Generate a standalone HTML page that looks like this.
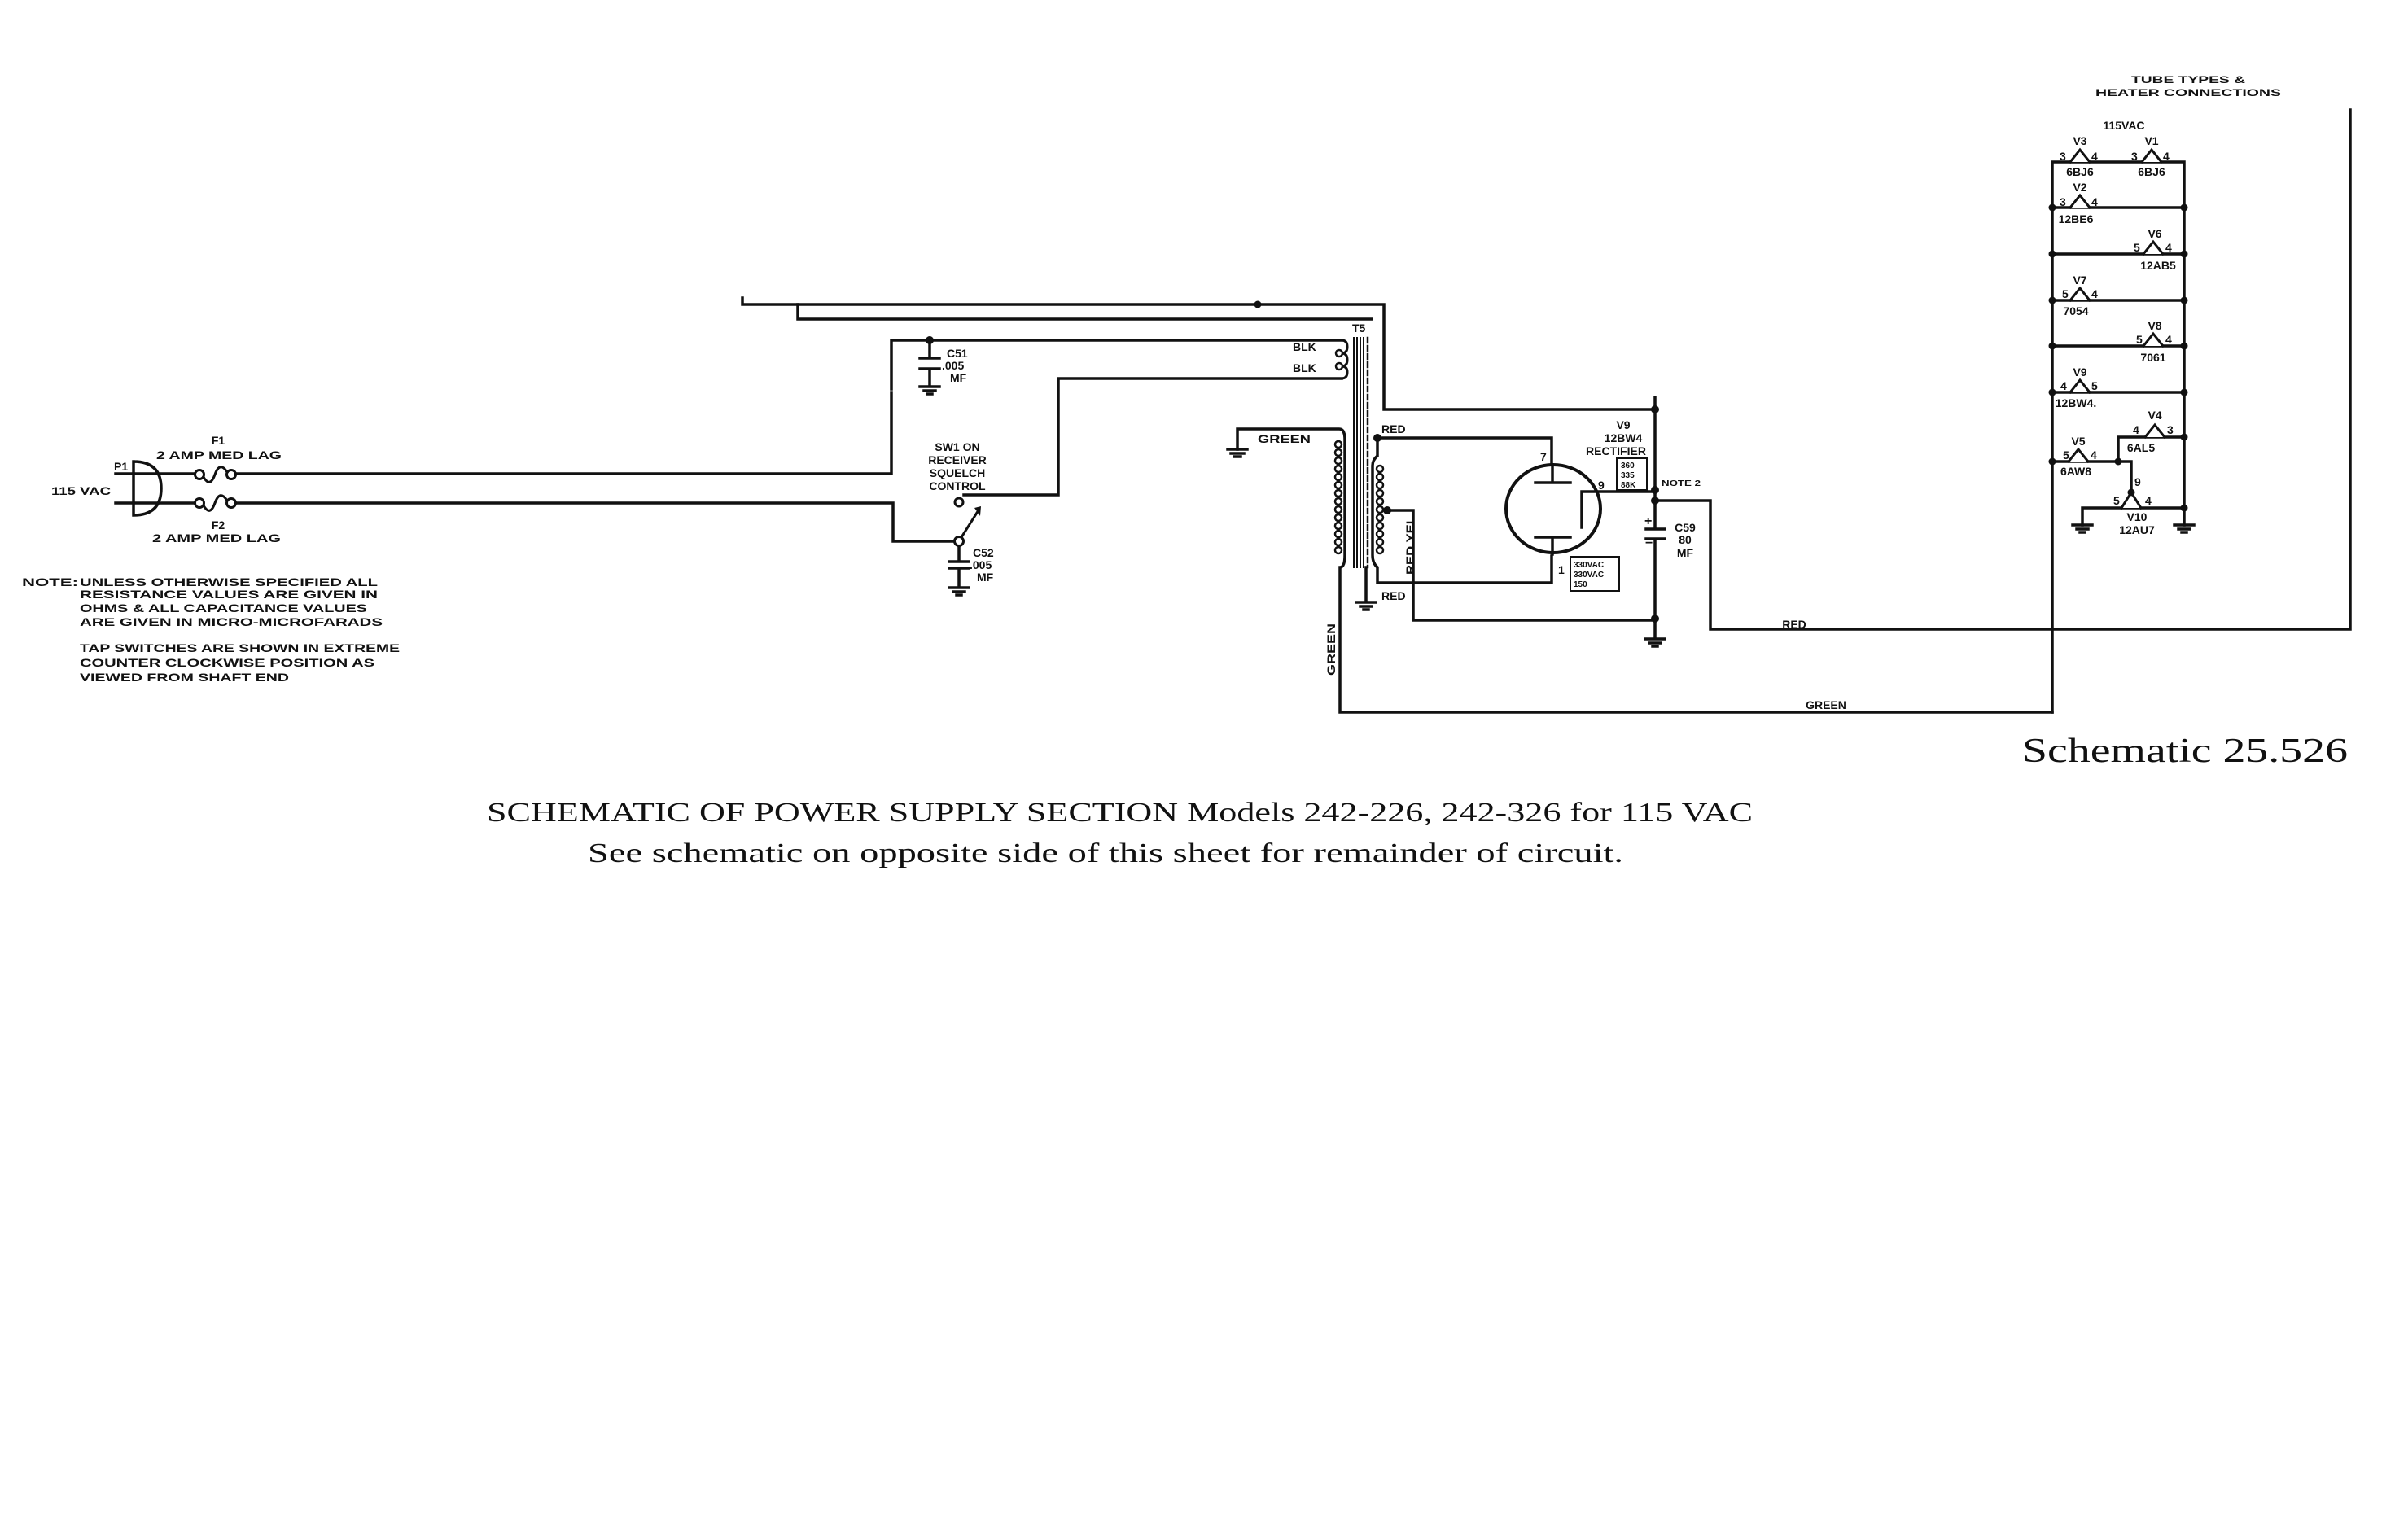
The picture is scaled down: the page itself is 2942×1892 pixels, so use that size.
<!DOCTYPE html>
<html><head><meta charset="utf-8"><style>
html,body{margin:0;padding:0;background:#fff;}
svg{display:block;}
.w{fill:none;stroke:#111;stroke-width:3.5;stroke-linecap:square;stroke-linejoin:miter;}
.t{font-family:"Liberation Sans",sans-serif;font-weight:bold;font-size:14px;fill:#111;}
.s{font-family:"Liberation Serif",serif;fill:#111;}
</style></head><body>
<svg width="2942" height="1892" viewBox="0 0 2942 1892" xmlns="http://www.w3.org/2000/svg">
<rect width="2942" height="1892" fill="#fff"/>
<g class="w">
<path d="M912 366 V374 H1700 V503 H2033"/>
<path d="M980 374 V392 H1685"/>
<path d="M1095 478 V418 H1648"/>
<path d="M1095 482 V582 H290"/>
<path d="M142 582 H239"/>
<path d="M142 618 H239"/>
<path d="M290 618 H1097 V665 H1172"/>
<path d="M1184 608 H1300 V465 H1648"/>
<path d="M164 567 V633 M164 567 Q198 567 198 600 Q198 633 164 633"/>
<circle cx="245" cy="583" r="5.5" stroke-width="3"/><circle cx="284" cy="583" r="5.5" stroke-width="3"/>
<path d="M250 586 Q258 600 264 583 Q270 566 279 580" stroke-width="3"/>
<circle cx="245" cy="618" r="5.5" stroke-width="3"/><circle cx="284" cy="618" r="5.5" stroke-width="3"/>
<path d="M250 621 Q258 635 264 618 Q270 601 279 615" stroke-width="3"/>
<path d="M1142 418 V440 M1130 440 H1154 M1130 453 H1154 M1142 453 V475 M1130 475 H1154 M1135 480 H1149 M1139 484 H1145"/>
<circle cx="1178" cy="617" r="5" stroke-width="3"/>
<circle cx="1178" cy="665" r="5.5" stroke-width="3"/>
<path d="M1181 660 L1200 630" stroke-width="3"/>
<path d="M1178 671 V690 M1166 690 H1190 M1166 698 H1190 M1178 698 V722 M1166 722 H1190 M1171 727 H1185 M1175 731 H1181"/>
<path d="M1663 415 V697 M1667 415 V697 M1671 415 V697 M1675 415 V697" stroke-width="2"/>
<path d="M1680 415 V697" stroke-width="2.5" stroke-dasharray="6 4"/>
<path d="M1678 697 V740 M1666 740 H1690 M1671 745 H1685 M1675 749 H1681"/>
<path d="M1648 418 Q1655 418 1655 426 Q1655 434 1648 434 Q1655 434 1655 442 Q1655 450 1648 450 Q1655 450 1655 457 Q1655 465 1648 465" stroke-width="3"/>
<circle cx="1645" cy="434" r="4" stroke-width="2.5"/><circle cx="1645" cy="450" r="4" stroke-width="2.5"/>
<path d="M1520 552 V527 H1645 Q1652 527 1652 540 V682 Q1652 697 1646 697 V875 H2521"/>
<g stroke-width="2.5">
<circle cx="1644" cy="546" r="4"/><circle cx="1644" cy="556" r="4"/><circle cx="1644" cy="566" r="4"/><circle cx="1644" cy="576" r="4"/><circle cx="1644" cy="586" r="4"/><circle cx="1644" cy="596" r="4"/><circle cx="1644" cy="606" r="4"/><circle cx="1644" cy="616" r="4"/><circle cx="1644" cy="626" r="4"/><circle cx="1644" cy="636" r="4"/><circle cx="1644" cy="646" r="4"/><circle cx="1644" cy="656" r="4"/><circle cx="1644" cy="666" r="4"/><circle cx="1644" cy="676" r="4"/>
</g>
<path d="M1508 552 H1532 M1512 557 H1528 M1516 561 H1524"/>
<path d="M1906 569 V538 H1692 V560 Q1686 565 1686 572 V682 Q1686 692 1692 697 V716 H1906 V683"/>
<g stroke-width="2.5">
<circle cx="1695" cy="576" r="4"/><circle cx="1695" cy="586" r="4"/><circle cx="1695" cy="596" r="4"/><circle cx="1695" cy="606" r="4"/><circle cx="1695" cy="616" r="4"/><circle cx="1695" cy="626" r="4"/><circle cx="1695" cy="636" r="4"/><circle cx="1695" cy="646" r="4"/><circle cx="1695" cy="656" r="4"/><circle cx="1695" cy="666" r="4"/><circle cx="1695" cy="676" r="4"/>
</g>
<path d="M1704 627 H1736 V762 H2033"/>
<ellipse cx="1908" cy="625" rx="58" ry="54" stroke-width="4"/>
<path d="M1886 593 H1929 M1907 593 V571 M1886 660 H1929 M1907 660 V681"/>
<path d="M1943 648 V604 H2033"/>
<path d="M2033 488 V650 M2022 650 H2045 M2022 662 H2045 M2033 662 V785 M2021 785 H2045 M2026 790 H2040 M2030 794 H2036"/>
<path d="M2033 615 H2101 V773 H2887 V135"/>
<rect x="1986" y="563" width="37" height="39" stroke-width="2"/>
<rect x="1929" y="684" width="60" height="42" stroke-width="2"/>
<path d="M2521 199 V875 M2683 199 V624 M2521 199 H2683"/>
<path d="M2521 255 H2683 M2521 312 H2683 M2521 369 H2683 M2521 425 H2683 M2521 482 H2683"/>
<path d="M2602 567 V537 H2683 M2521 567 H2618 V605"/>
<path d="M2558 645 V624 H2683 V645"/>
<path d="M2546 645 H2570 M2551 650 H2565 M2555 654 H2561 M2671 645 H2695 M2676 650 H2690 M2680 654 H2686"/>
<g fill="#fff" stroke-width="3">
<path d="M2543 199 L2555 184 L2567 199"/><path d="M2631 199 L2643 184 L2655 199"/>
<path d="M2543 255 L2555 240 L2567 255"/><path d="M2633 312 L2645 297 L2657 312"/>
<path d="M2543 369 L2555 354 L2567 369"/><path d="M2633 425 L2645 410 L2657 425"/>
<path d="M2543 482 L2555 467 L2567 482"/><path d="M2635 537 L2647 522 L2659 537"/>
<path d="M2541 567 L2553 552 L2565 567"/><path d="M2606 624 L2618 605 L2630 624"/>
</g>
</g>
<g fill="#111">
<circle cx="1545" cy="374" r="4.5"/><circle cx="1142" cy="418" r="5"/>
<circle cx="2033" cy="503" r="5"/><circle cx="1692" cy="538" r="5"/><circle cx="1704" cy="627" r="5"/>
<circle cx="2033" cy="602" r="5"/><circle cx="2033" cy="615" r="5"/><circle cx="2033" cy="760" r="5"/>
<circle cx="2521" cy="255" r="4.5"/><circle cx="2683" cy="255" r="4.5"/>
<circle cx="2521" cy="312" r="4.5"/><circle cx="2683" cy="312" r="4.5"/>
<circle cx="2521" cy="369" r="4.5"/><circle cx="2683" cy="369" r="4.5"/>
<circle cx="2521" cy="425" r="4.5"/><circle cx="2683" cy="425" r="4.5"/>
<circle cx="2521" cy="482" r="4.5"/><circle cx="2683" cy="482" r="4.5"/>
<circle cx="2683" cy="537" r="4.5"/><circle cx="2521" cy="567" r="4.5"/><circle cx="2602" cy="567" r="4.5"/>
<circle cx="2618" cy="605" r="4.5"/><circle cx="2683" cy="624" r="4.5"/>
<path d="M1197 624 L1205 622 L1204 634 Z"/>
</g>
<g class="t">
<text x="268" y="546" text-anchor="middle">F1</text>
<text x="192" y="564" textLength="154" lengthAdjust="spacingAndGlyphs">2 AMP MED LAG</text>
<text x="140" y="578">P1</text>
<text x="63" y="608" textLength="73" lengthAdjust="spacingAndGlyphs">115 VAC</text>
<text x="268" y="650" text-anchor="middle">F2</text>
<text x="187" y="666" textLength="158" lengthAdjust="spacingAndGlyphs">2 AMP MED LAG</text>
<text x="27" y="720" textLength="69" lengthAdjust="spacingAndGlyphs">NOTE:</text>
<text x="98" y="720" textLength="366" lengthAdjust="spacingAndGlyphs">UNLESS OTHERWISE SPECIFIED ALL</text>
<text x="98" y="735" textLength="366" lengthAdjust="spacingAndGlyphs">RESISTANCE VALUES ARE GIVEN IN</text>
<text x="98" y="752" textLength="353" lengthAdjust="spacingAndGlyphs">OHMS &amp; ALL CAPACITANCE VALUES</text>
<text x="98" y="769" textLength="372" lengthAdjust="spacingAndGlyphs">ARE GIVEN IN MICRO-MICROFARADS</text>
<text x="98" y="801" textLength="393" lengthAdjust="spacingAndGlyphs">TAP SWITCHES ARE SHOWN IN EXTREME</text>
<text x="98" y="819" textLength="362" lengthAdjust="spacingAndGlyphs">COUNTER CLOCKWISE POSITION AS</text>
<text x="98" y="837" textLength="257" lengthAdjust="spacingAndGlyphs">VIEWED FROM SHAFT END</text>
<text x="1163" y="439">C51</text><text x="1157" y="454">.005</text><text x="1167" y="469">MF</text>
<text x="1176" y="554" text-anchor="middle">SW1 ON</text>
<text x="1176" y="570" text-anchor="middle">RECEIVER</text>
<text x="1176" y="586" text-anchor="middle">SQUELCH</text>
<text x="1176" y="602" text-anchor="middle">CONTROL</text>
<text x="1195" y="684">C52</text><text x="1191" y="699">.005</text><text x="1200" y="714">MF</text>
<text x="1661" y="408">T5</text>
<text x="1588" y="431">BLK</text><text x="1588" y="457">BLK</text>
<text x="1545" y="544" textLength="65" lengthAdjust="spacingAndGlyphs">GREEN</text>
<text x="1697" y="532">RED</text><text x="1697" y="737">RED</text>
<text transform="translate(1737 706) rotate(-90)" textLength="72" lengthAdjust="spacingAndGlyphs">RED YEL</text>
<text transform="translate(1640 830) rotate(-90)" textLength="64" lengthAdjust="spacingAndGlyphs">GREEN</text>
<text x="1994" y="527" text-anchor="middle">V9</text>
<text x="1994" y="543" text-anchor="middle">12BW4</text>
<text x="1985" y="559" text-anchor="middle">RECTIFIER</text>
<text x="1892" y="566">7</text><text x="1963" y="601">9</text><text x="1914" y="705">1</text>
<text x="2020" y="645" font-size="16">+</text><text x="2021" y="672" font-size="16">−</text>
<text x="2070" y="653" text-anchor="middle">C59</text><text x="2070" y="668" text-anchor="middle">80</text><text x="2070" y="684" text-anchor="middle">MF</text>
<text x="2204" y="772" text-anchor="middle">RED</text>
<text x="2243" y="871" text-anchor="middle">GREEN</text>
<text x="2688" y="102" text-anchor="middle" font-size="12" textLength="140" lengthAdjust="spacingAndGlyphs">TUBE TYPES &amp;</text>
<text x="2688" y="118" text-anchor="middle" font-size="12" textLength="228" lengthAdjust="spacingAndGlyphs">HEATER CONNECTIONS</text>
<text x="2609" y="159" text-anchor="middle">115VAC</text>
<text x="2555" y="178" text-anchor="middle">V3</text><text x="2643" y="178" text-anchor="middle">V1</text>
<text x="2530" y="197">3</text><text x="2569" y="197">4</text><text x="2618" y="197">3</text><text x="2657" y="197">4</text>
<text x="2555" y="216" text-anchor="middle">6BJ6</text><text x="2643" y="216" text-anchor="middle">6BJ6</text>
<text x="2555" y="235" text-anchor="middle">V2</text>
<text x="2530" y="253">3</text><text x="2569" y="253">4</text>
<text x="2550" y="274" text-anchor="middle">12BE6</text>
<text x="2647" y="292" text-anchor="middle">V6</text>
<text x="2621" y="309">5</text><text x="2660" y="309">4</text>
<text x="2651" y="331" text-anchor="middle">12AB5</text>
<text x="2555" y="349" text-anchor="middle">V7</text>
<text x="2533" y="366">5</text><text x="2569" y="366">4</text>
<text x="2550" y="387" text-anchor="middle">7054</text>
<text x="2647" y="405" text-anchor="middle">V8</text>
<text x="2624" y="422">5</text><text x="2660" y="422">4</text>
<text x="2645" y="444" text-anchor="middle">7061</text>
<text x="2555" y="462" text-anchor="middle">V9</text>
<text x="2531" y="479">4</text><text x="2569" y="479">5</text>
<text x="2550" y="500" text-anchor="middle">12BW4.</text>
<text x="2647" y="515" text-anchor="middle">V4</text>
<text x="2620" y="533">4</text><text x="2662" y="533">3</text>
<text x="2630" y="555" text-anchor="middle">6AL5</text>
<text x="2553" y="547" text-anchor="middle">V5</text>
<text x="2534" y="564">5</text><text x="2568" y="564">4</text>
<text x="2550" y="584" text-anchor="middle">6AW8</text>
<text x="2622" y="597">9</text>
<text x="2596" y="620">5</text><text x="2635" y="620">4</text>
<text x="2625" y="640" text-anchor="middle">V10</text>
<text x="2625" y="656" text-anchor="middle">12AU7</text>
</g>
<g class="t">
<text x="2041" y="597" font-size="10" textLength="48" lengthAdjust="spacingAndGlyphs">NOTE 2</text>
<text x="1991" y="575" font-size="10">360</text><text x="1991" y="587" font-size="10">335</text><text x="1991" y="599" font-size="10">88K</text>
<text x="1933" y="697" font-size="10">330VAC</text><text x="1933" y="709" font-size="10">330VAC</text><text x="1933" y="721" font-size="10">150</text>
</g>
<text class="s" x="2484" y="936" font-size="42" textLength="400" lengthAdjust="spacingAndGlyphs">Schematic 25.526</text>
<text class="s" x="598" y="1009" font-size="34" textLength="1555" lengthAdjust="spacingAndGlyphs">SCHEMATIC OF POWER SUPPLY SECTION    Models 242-226, 242-326  for 115 VAC</text>
<text class="s" x="722" y="1059" font-size="34" textLength="1272" lengthAdjust="spacingAndGlyphs">See schematic on opposite side of this sheet for remainder of circuit.</text>
</svg>
</body></html>
